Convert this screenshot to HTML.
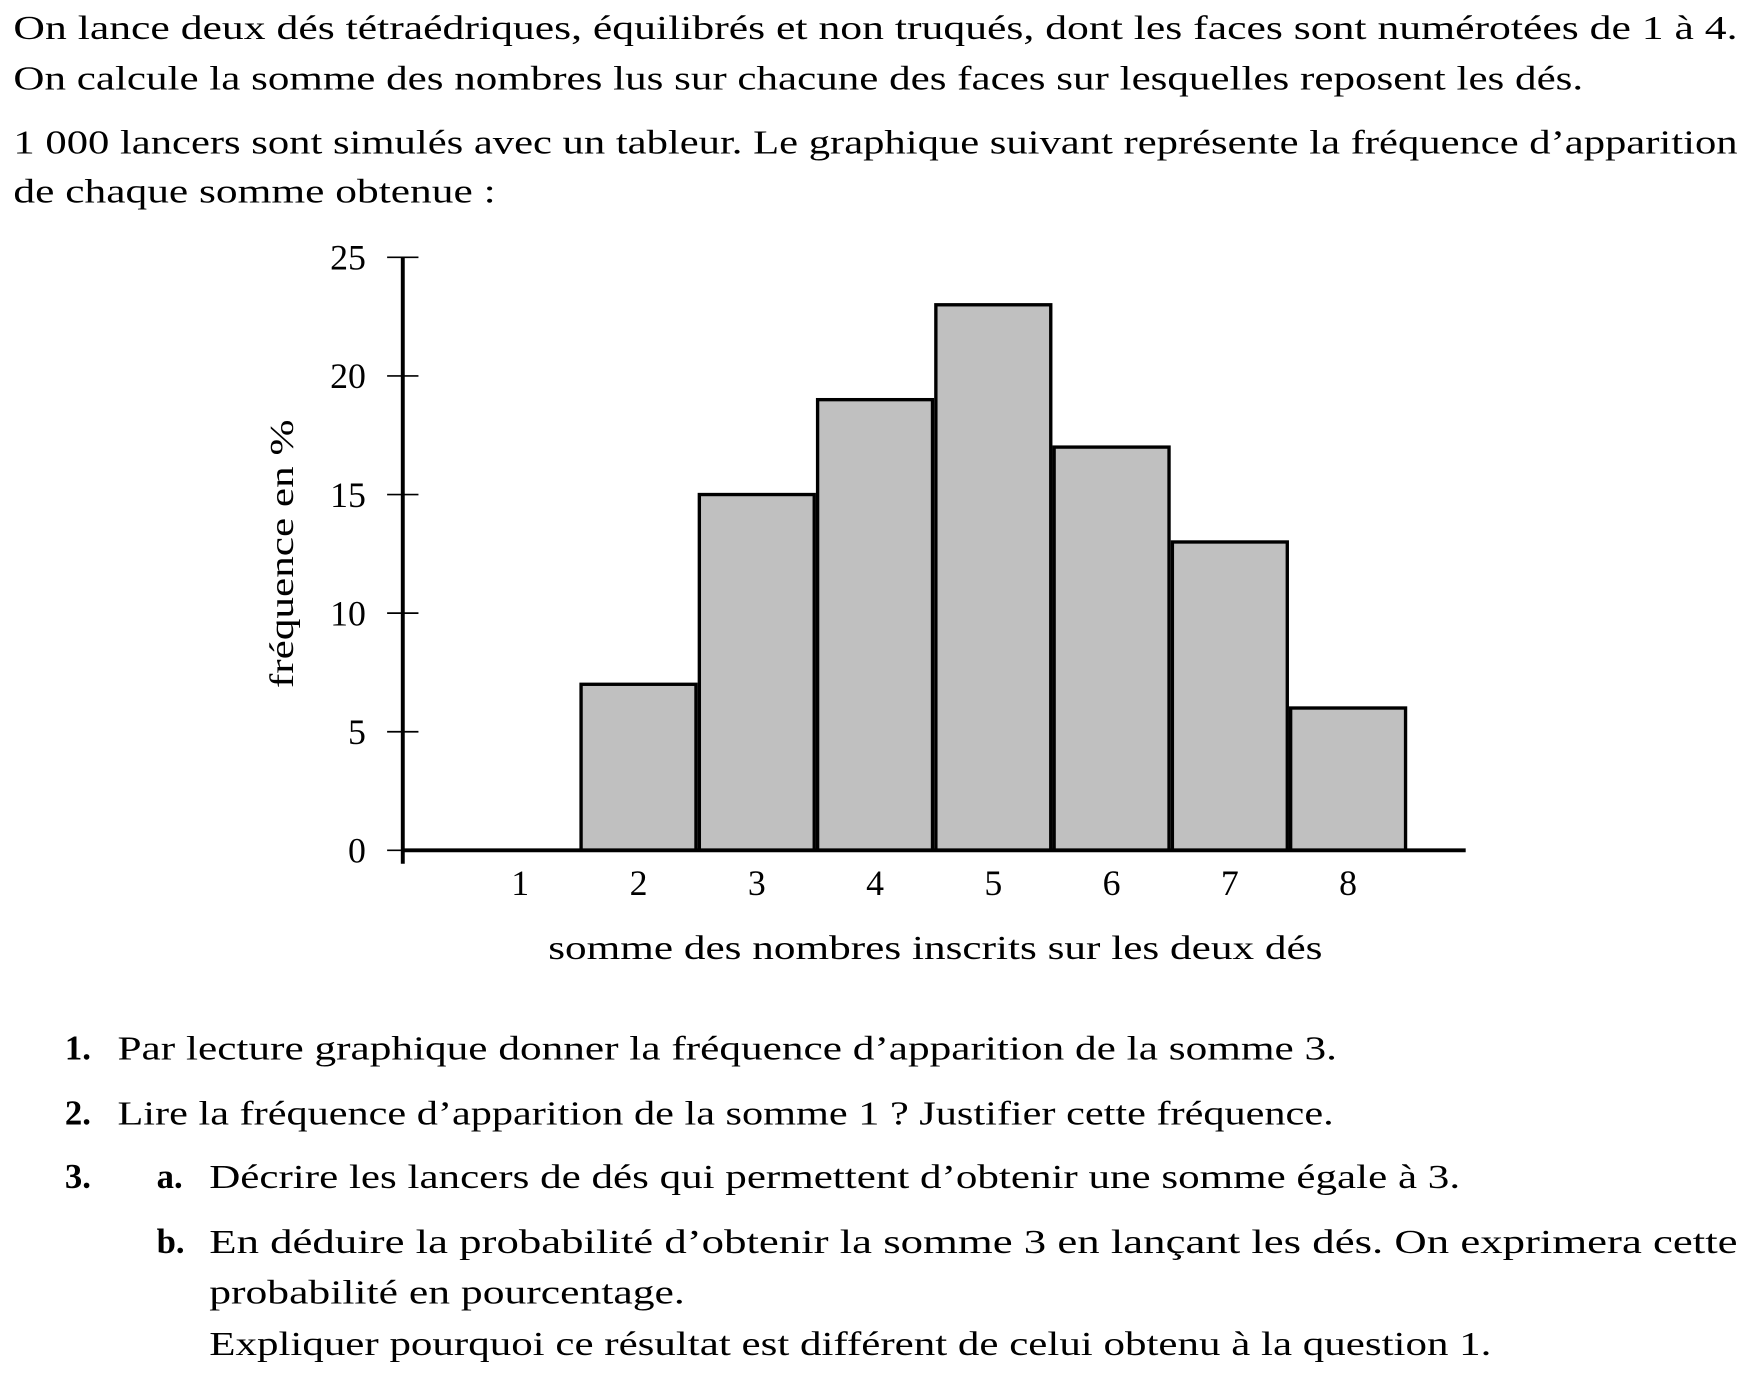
<!DOCTYPE html>
<html><head><meta charset="utf-8">
<style>
html,body{margin:0;padding:0;background:#fff;}
svg{display:block;}
text{font-family:"Liberation Serif",serif;fill:#000;}
</style></head>
<body>
<svg id="page" width="1751" height="1380" viewBox="0 0 1565 1233.4" xmlns="http://www.w3.org/2000/svg">
<g font-size="30">
<text x="12" y="35" textLength="1541" lengthAdjust="spacingAndGlyphs">On lance deux dés tétraédriques, équilibrés et non truqués, dont les faces sont numérotées de 1 à 4.</text>
<text x="12" y="80" textLength="1403" lengthAdjust="spacingAndGlyphs">On calcule la somme des nombres lus sur chacune des faces sur lesquelles reposent les dés.</text>
<text x="12" y="137" textLength="1541" lengthAdjust="spacingAndGlyphs">1 000 lancers sont simulés avec un tableur. Le graphique suivant représente la fréquence d’apparition</text>
<text x="12" y="181" textLength="431" lengthAdjust="spacingAndGlyphs">de chaque somme obtenue :</text>
</g>
<g id="chart"></g>
<g font-size="30">
<text x="58" y="947" font-weight="bold" font-size="31">1.</text>
<text x="105" y="947" textLength="1090" lengthAdjust="spacingAndGlyphs">Par lecture graphique donner la fréquence d’apparition de la somme 3.</text>
<text x="58" y="1005" font-weight="bold" font-size="31">2.</text>
<text x="105" y="1005" textLength="1087" lengthAdjust="spacingAndGlyphs">Lire la fréquence d’apparition de la somme 1 ? Justifier cette fréquence.</text>
<text x="58" y="1062" font-weight="bold" font-size="31">3.</text>
<text x="140" y="1062" font-weight="bold" font-size="31">a.</text>
<text x="187" y="1062" textLength="1118" lengthAdjust="spacingAndGlyphs">Décrire les lancers de dés qui permettent d’obtenir une somme égale à 3.</text>
<text x="140" y="1120" font-weight="bold" font-size="31">b.</text>
<text x="187" y="1120" textLength="1366" lengthAdjust="spacingAndGlyphs">En déduire la probabilité d’obtenir la somme 3 en lançant les dés. On exprimera cette</text>
<text x="187" y="1165" textLength="425" lengthAdjust="spacingAndGlyphs">probabilité en pourcentage.</text>
<text x="187" y="1211" textLength="1146" lengthAdjust="spacingAndGlyphs">Expliquer pourquoi ce résultat est différent de celui obtenu à la question 1.</text>
</g>
</svg>
<script>
const categories = [1, 2, 3, 4, 5, 6, 7, 8];
const frequencies = [0, 7, 15, 19, 23, 17, 13, 6];
const yTicks = [0, 5, 10, 15, 20, 25];

const NS = 'http://www.w3.org/2000/svg';
const chart = document.getElementById('chart');
const x0 = 360, y0 = 760, step = 105.7, yUnit = 21.2;
const xCenter = c => 465 + (c - 1) * step;
const yPos = v => y0 - v * yUnit;
function mk(tag, attrs, parent) {
  const e = document.createElementNS(NS, tag);
  for (const k in attrs) e.setAttribute(k, attrs[k]);
  (parent || chart).appendChild(e);
  return e;
}
categories.forEach((c, i) => {
  const v = frequencies[i];
  if (v <= 0) return;
  const r = mk('rect', {x: xCenter(c) - step / 2 + 1.5, y: yPos(v), width: step - 3, height: y0 - yPos(v), fill: '#c0c0c0', stroke: '#000', 'stroke-width': 3});
  
  
});
const ya = mk('line', {x1: x0, y1: yPos(25), x2: x0, y2: y0 + 12, stroke: '#000', 'stroke-width': 3.5});


const xa = mk('line', {x1: x0, y1: y0, x2: 1310, y2: y0, stroke: '#000', 'stroke-width': 3.5});


yTicks.forEach(t => {
  const l = mk('line', {x1: 346, y1: yPos(t), x2: 374, y2: yPos(t), stroke: '#000', 'stroke-width': 1.5});
  
  
  const tx = mk('text', {x: 327, y: yPos(t) + 11, 'text-anchor': 'end', 'font-size': 32});
  tx.textContent = t;
  
  
});
categories.forEach(c => {
  const tx = mk('text', {x: xCenter(c), y: 800, 'text-anchor': 'middle', 'font-size': 32});
  tx.textContent = c;
  
  
});
const xt = mk('text', {x: 836, y: 857, 'text-anchor': 'middle', 'font-size': 30, textLength: 692, lengthAdjust: 'spacingAndGlyphs'});
xt.textContent = 'somme des nombres inscrits sur les deux dés';


const yt = mk('text', {x: 0, y: 0, 'text-anchor': 'middle', 'font-size': 30, transform: 'translate(262,495) rotate(-90)', textLength: 240, lengthAdjust: 'spacingAndGlyphs'});
yt.textContent = 'fréquence en %';


</script>
</body></html>
